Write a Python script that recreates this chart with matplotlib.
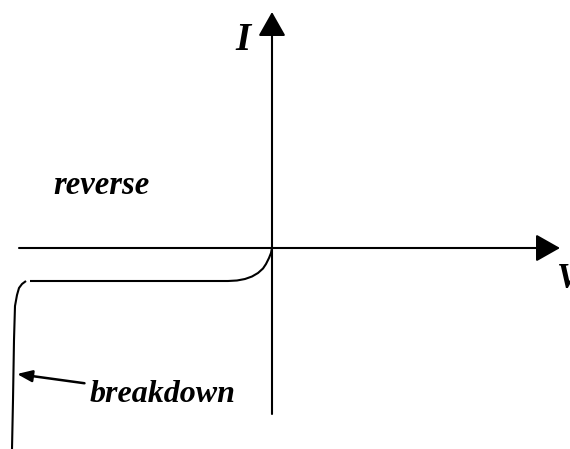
import matplotlib
matplotlib.use("Agg")
import matplotlib.pyplot as plt

# Diode I-V sketch, units relative to the origin (V right, I up)
breakdown_v = [-260, -259, -258, -257, -255, -253, -250, -246]
breakdown_i = [-201, -152, -92, -58, -47, -40, -36, -33]

reverse_v = [-242, -150, -60, -44, -35, -27, -20, -14, -9, -6, -3, -1, 0]
reverse_i = [-33, -33, -33, -33, -32.5, -31, -28.5, -25, -20.5, -16, -10, -5, 0]

x_min, x_max = -272, 298
y_min, y_max = -201, 248

fig = plt.figure(figsize=(5.70, 4.49), dpi=100)
ax = fig.add_axes([0, 0, 1, 1])
ax.set_xlim(x_min, x_max)
ax.set_ylim(y_min, y_max)
ax.axis("off")

serif = dict(family="Liberation Serif", style="italic", weight="bold")
arrow_kw = dict(arrowstyle="-|>,head_length=1.5,head_width=0.85",
                color="black", lw=1.5, shrinkA=0, shrinkB=0, mutation_scale=10)

# axes with filled arrowheads
ax.annotate("", xy=(288, 0), xytext=(-253, 0), arrowprops=arrow_kw)
ax.annotate("", xy=(0, 236), xytext=(0, -166), arrowprops=arrow_kw)

# curve
ax.plot(breakdown_v, breakdown_i, color="black", lw=1.5, solid_capstyle="butt")
ax.plot(reverse_v, reverse_i, color="black", lw=1.5, solid_capstyle="butt")

# labels
ax.text(-29, 208, "I", fontsize=28, ha="center", va="center", **serif)
ax.text(285, -32, "V", fontsize=25, ha="left", va="center", **serif)
ax.text(-219, 62, "reverse", fontsize=23.5, ha="left", va="center", **serif)
ax.annotate("breakdown", xy=(-255, -126), xytext=(-182, -146),
            fontsize=23, ha="left", va="center", **serif,
            arrowprops=dict(arrowstyle="-|>,head_length=0.9,head_width=0.35",
                            color="black", lw=1.8, shrinkA=2, shrinkB=0,
                            mutation_scale=10))

fig.savefig("out.png", dpi=100)
